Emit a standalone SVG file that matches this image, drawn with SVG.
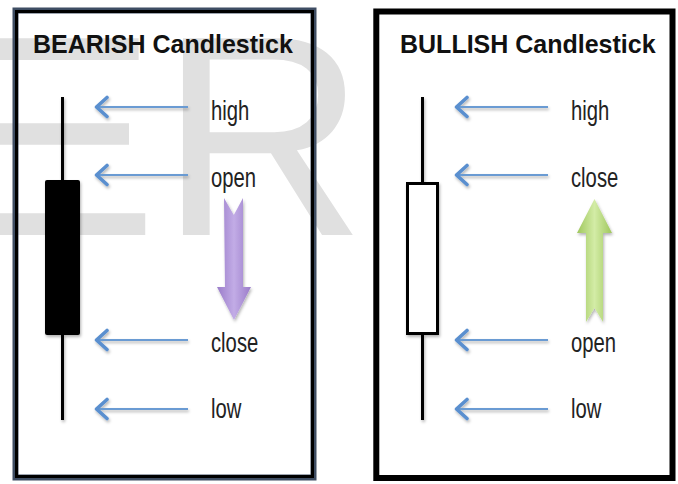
<svg xmlns="http://www.w3.org/2000/svg" width="678" height="484" viewBox="0 0 678 484">
  <style>
    .wm { font-family: "Liberation Sans", Arial, sans-serif; font-size: 286px; fill: #e0e0e0; }
    .title { font-family: "Liberation Sans", Arial, sans-serif; font-size: 25px; font-weight: bold; fill: #111; }
    .lbl { font-family: "Liberation Sans", Arial, sans-serif; font-size: 27px; fill: #222; }
    .ptr-line { stroke: #6b9bd3; stroke-width: 2.2; fill: none; }
    .ptr-head { stroke: #5a8fcf; stroke-width: 3.6; fill: none; stroke-linecap: round; stroke-linejoin: round; }
    .wick { stroke: #000; stroke-width: 3; }
  </style>
  <defs>
    <filter id="soft" x="-30%" y="-30%" width="160%" height="160%">
      <feDropShadow dx="1" dy="2" stdDeviation="1.4" flood-color="#000" flood-opacity="0.3"/>
    </filter>
    <linearGradient id="purple" x1="0" y1="0" x2="1" y2="0">
      <stop offset="0" stop-color="#9a7cc9"/>
      <stop offset="0.5" stop-color="#c2ace6"/>
      <stop offset="1" stop-color="#9a7cc9"/>
    </linearGradient>
    <linearGradient id="green" x1="0" y1="0" x2="1" y2="0">
      <stop offset="0" stop-color="#9fc75c"/>
      <stop offset="0.5" stop-color="#d3eca6"/>
      <stop offset="1" stop-color="#9fc75c"/>
    </linearGradient>
  </defs>

  <rect width="678" height="484" fill="#fff"/>

  <!-- background lettering -->
  <g id="watermark">
    <text class="wm" transform="translate(-60,235) scale(1.15,1)">E</text>
    <text class="wm" x="159.5" y="235">R</text>
  </g>

  <!-- bearish panel -->
  <g id="bearish">
    <rect x="15.5" y="10.5" width="298" height="467" fill="none" stroke="#3e4d63" stroke-width="6"/>
    <rect x="16.5" y="11.5" width="296" height="465" fill="none" stroke="#000" stroke-width="3"/>
    <text class="title" x="33" y="53">BEARISH Candlestick</text>
    <g id="bear-candle" filter="url(#soft)">
      <line class="wick" x1="62.5" y1="97" x2="62.5" y2="420"/>
      <rect x="45" y="180" width="35" height="155" rx="2" fill="#000"/>
    </g>
    <g id="bear-down" filter="url(#soft)">
      <path d="M224,198 L233.8,215 L243,198 L243,287 L251,287 L234,320 L217,287 L225,287 Z" fill="url(#purple)"/>
    </g>
    <text class="lbl" transform="translate(211,120) scale(0.75,1)">high</text>
    <text class="lbl" transform="translate(211,187) scale(0.75,1)">open</text>
    <text class="lbl" transform="translate(211,352) scale(0.75,1)">close</text>
    <text class="lbl" transform="translate(211,418) scale(0.75,1)">low</text>
  </g>

  <!-- bullish panel -->
  <g id="bullish">
    <rect x="376.3" y="11.5" width="296.2" height="466.5" fill="none" stroke="#000" stroke-width="6"/>
    <text class="title" x="400" y="53">BULLISH Candlestick</text>
    <g id="bull-candle" filter="url(#soft)">
      <line class="wick" x1="422.5" y1="97" x2="422.5" y2="420"/>
      <rect x="407.5" y="183.5" width="30" height="150" fill="#fff" stroke="#000" stroke-width="3"/>
    </g>
    <g id="bull-up" filter="url(#soft)">
      <path d="M594.5,199 L612,233 L603,233 L603,322 L594.5,308 L586,322 L586,233 L577,233 Z" fill="url(#green)"/>
    </g>
    <text class="lbl" transform="translate(571,120) scale(0.75,1)">high</text>
    <text class="lbl" transform="translate(571,187) scale(0.75,1)">close</text>
    <text class="lbl" transform="translate(571,352) scale(0.75,1)">open</text>
    <text class="lbl" transform="translate(571,418) scale(0.75,1)">low</text>
  </g>

  <!-- pointers from labels to candle levels -->
  <g id="connectors" filter="url(#soft)">
    <path class="ptr-line" d="M188,107 H97 M188,175 H97 M188,340 H97 M188,409 H97"/>
    <path class="ptr-head" d="M107,97.5 L96.5,107 L107,116.5 M107,165.5 L96.5,175 L107,184.5 M107,330.5 L96.5,340 L107,349.5 M107,399.5 L96.5,409 L107,418.5"/>
    <path class="ptr-line" d="M548,107 H457 M548,175 H457 M548,340 H457 M548,409 H457"/>
    <path class="ptr-head" d="M467,97.5 L456.5,107 L467,116.5 M467,165.5 L456.5,175 L467,184.5 M467,330.5 L456.5,340 L467,349.5 M467,399.5 L456.5,409 L467,418.5"/>
  </g>
</svg>
